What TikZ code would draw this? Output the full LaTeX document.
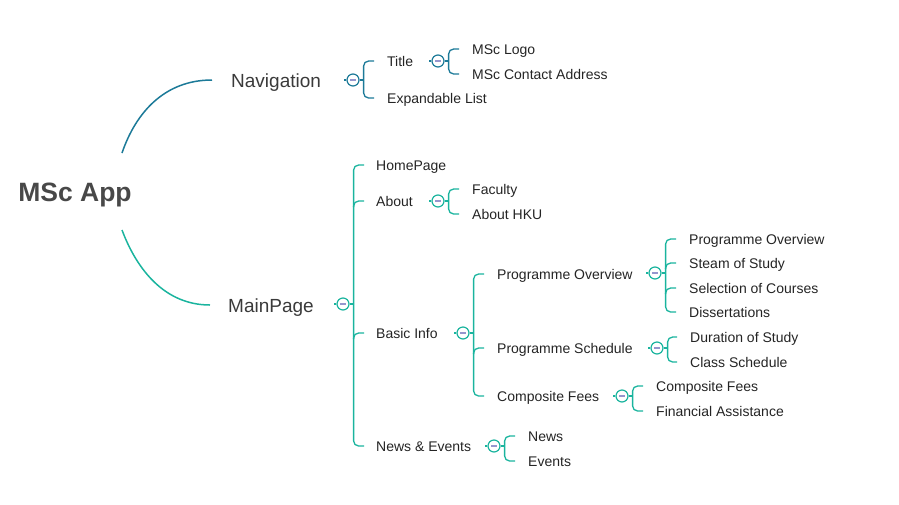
\documentclass[tikz,border=0pt]{standalone}
\usepackage{fontspec}
\setmainfont{Liberation Sans}
\definecolor{navc}{RGB}{28,122,152}
\definecolor{mainc}{RGB}{26,180,158}
\definecolor{minusc}{RGB}{150,150,205}
\definecolor{txt}{RGB}{36,36,36}
\definecolor{rootc}{RGB}{72,72,72}

\begin{document}
\begin{tikzpicture}[x=1pt,y=-1pt,
  leaf/.style={anchor=west,inner sep=0pt,text height=11pt,text depth=1pt,text=txt,font=\fontsize{14}{16}\selectfont},
  topic/.style={anchor=west,inner sep=0pt,text height=15pt,text depth=1pt,text=rootc!80!black,font=\fontsize{19}{22}\selectfont},
  fold/.style={circle,draw=#1,fill=white,line width=1.2pt,minimum size=12pt,inner sep=0pt,
    path picture={\draw[minusc,line width=1.2pt] ([xshift=-3pt]path picture bounding box.center) -- ([xshift=3pt]path picture bounding box.center);}},
  br/.style={line width=1.3pt,rounded corners=5pt},
  stem/.style={line width=1.5pt}]
\useasboundingbox (0,0) rectangle (899,504);

\node[inner sep=0pt,text height=19pt,text depth=1pt,text=rootc,font=\bfseries\fontsize{26.5}{30}\selectfont] (root) at (75,192) {MSc App};
\coordinate (rootUp) at (122,153);
\coordinate (rootDn) at (122,230);

\node[topic] (nav) at (231,80) {Navigation};
\node[topic] (main) at (228,305) {MainPage};

\draw[stem,navc] (rootUp) .. controls (136,112) and (165,80) .. ([xshift=-19pt]nav.west);
\draw[stem,mainc] (rootDn) .. controls (137,270) and (165,305) .. ([xshift=-18pt]main.west);

% navigation branch
\node[fold=navc] (cNav) at (353,80) {};
\node[leaf] (title) at (387,61) {Title};
\node[leaf] (exp) at (387,98) {Expandable List};
\node[fold=navc] (cTitle) at (438,61) {};
\node[leaf] (logo) at (472,49) {MSc Logo};
\node[leaf] (addr) at (472,74) {MSc Contact Address};

% main page branch
\node[fold=mainc] (cMain) at (343,304) {};
\node[leaf] (home) at (376,165) {HomePage};
\node[leaf] (about) at (376,201) {About};
\node[leaf] (basic) at (376,333) {Basic Info};
\node[leaf] (news) at (376,446) {News \& Events};

\node[fold=mainc] (cAbout) at (438,201) {};
\node[leaf] (fac) at (472,189) {Faculty};
\node[leaf] (hku) at (472,214) {About HKU};

\node[fold=mainc] (cBasic) at (463,333) {};
\node[leaf] (prog) at (497,274) {Programme Overview};
\node[leaf] (sched) at (497,348) {Programme Schedule};
\node[leaf] (fees) at (497,396) {Composite Fees};

\node[fold=mainc] (cProg) at (655,273) {};
\node[leaf] (p1) at (689,239) {Programme Overview};
\node[leaf] (p2) at (689,263) {Steam of Study};
\node[leaf] (p3) at (689,288) {Selection of Courses};
\node[leaf] (p4) at (689,312) {Dissertations};

\node[fold=mainc] (cSched) at (657,348) {};
\node[leaf] (s1) at (690,337) {Duration of Study};
\node[leaf] (s2) at (690,362) {Class Schedule};

\node[fold=mainc] (cFees) at (622,396) {};
\node[leaf] (f1) at (656,386) {Composite Fees};
\node[leaf] (f2) at (656,411) {Financial Assistance};

\node[fold=mainc] (cNews) at (494,446) {};
\node[leaf] (n1) at (528,436) {News};
\node[leaf] (n2) at (528,461) {Events};

% brackets
\foreach \c in {cNav,cTitle}
  \draw[br,navc] (\c.west) -- ++(-2.5,0) (\c.east) -- ++(4,0) coordinate (s\c);
\foreach \c in {cMain,cAbout,cBasic,cProg,cSched,cFees,cNews}
  \draw[br,mainc] (\c.west) -- ++(-2.5,0) (\c.east) -- ++(4,0) coordinate (s\c);

\draw[br,navc] ([xshift=-13pt]title.west) -| (scNav) |- ([xshift=-13pt]exp.west);
\draw[br,navc] ([xshift=-13pt]logo.west) -| (scTitle) |- ([xshift=-13pt]addr.west);

\draw[br,mainc] ([xshift=-12pt]home.west) -| (scMain) |- ([xshift=-12pt]news.west);
\draw[br,mainc] (scMain |- about.west) ++(0,6) |- ([xshift=-12pt]about.west);
\draw[br,mainc] (scMain |- basic.west) ++(0,6) |- ([xshift=-12pt]basic.west);

\draw[br,mainc] ([xshift=-13pt]fac.west) -| (scAbout) |- ([xshift=-13pt]hku.west);

\draw[br,mainc] ([xshift=-13pt]prog.west) -| (scBasic) |- ([xshift=-13pt]fees.west);
\draw[br,mainc] (scBasic |- sched.west) ++(0,6) |- ([xshift=-13pt]sched.west);

\draw[br,mainc] ([xshift=-13pt]p1.west) -| (scProg) |- ([xshift=-13pt]p4.west);
\draw[br,mainc] (scProg |- p2.west) ++(0,6) |- ([xshift=-13pt]p2.west);
\draw[br,mainc] (scProg |- p3.west) ++(0,6) |- ([xshift=-13pt]p3.west);

\draw[br,mainc] ([xshift=-13pt]s1.west) -| (scSched) |- ([xshift=-13pt]s2.west);
\draw[br,mainc] ([xshift=-13pt]f1.west) -| (scFees) |- ([xshift=-13pt]f2.west);
\draw[br,mainc] ([xshift=-13pt]n1.west) -| (scNews) |- ([xshift=-13pt]n2.west);
\end{tikzpicture}
\end{document}
